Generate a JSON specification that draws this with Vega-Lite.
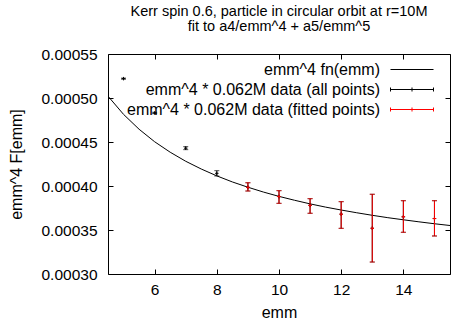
{
  "$schema": "https://vega.github.io/schema/vega-lite/v6.json",
  "width": 342,
  "height": 220,
  "autosize": {"type": "none"},
  "padding": {"left": 108, "top": 54, "right": 1, "bottom": 47},
  "title": {
    "text": ["Kerr spin 0.6, particle in circular orbit at r=10M", "fit to a4/emm^4 + a5/emm^5"],
    "fontSize": 14.5, "fontWeight": "normal", "font": "Liberation Sans", "lineHeight": 15,
    "offset": 13, "anchor": "middle", "color": "black"
  },
  "config": {
    "view": {"stroke": "black", "strokeWidth": 1},
    "font": "Liberation Sans",
    "axis": {
      "domain": false, "grid": false, "tickColor": "black", "tickSize": -5, "tickWidth": 1,
      "labelColor": "black", "labelFontSize": 15.5, "labelFont": "Liberation Sans",
      "titleColor": "black", "titleFontSize": 16, "titleFontWeight": "normal", "titleFont": "Liberation Sans"
    }
  },
  "datasets": {
    "curve": [
      {"emm": 4.5, "val": 0.0005021, "series": "emm^4 fn(emm)"},
      {"emm": 5.0, "val": 0.0004814, "series": "emm^4 fn(emm)"},
      {"emm": 5.5, "val": 0.0004645, "series": "emm^4 fn(emm)"},
      {"emm": 6.0, "val": 0.0004503, "series": "emm^4 fn(emm)"},
      {"emm": 6.5, "val": 0.0004384, "series": "emm^4 fn(emm)"},
      {"emm": 7.0, "val": 0.0004281, "series": "emm^4 fn(emm)"},
      {"emm": 7.5, "val": 0.0004193, "series": "emm^4 fn(emm)"},
      {"emm": 8.0, "val": 0.0004115, "series": "emm^4 fn(emm)"},
      {"emm": 8.5, "val": 0.0004046, "series": "emm^4 fn(emm)"},
      {"emm": 9.0, "val": 0.0003986, "series": "emm^4 fn(emm)"},
      {"emm": 9.5, "val": 0.0003931, "series": "emm^4 fn(emm)"},
      {"emm": 10.0, "val": 0.0003882, "series": "emm^4 fn(emm)"},
      {"emm": 10.5, "val": 0.0003838, "series": "emm^4 fn(emm)"},
      {"emm": 11.0, "val": 0.0003797, "series": "emm^4 fn(emm)"},
      {"emm": 11.5, "val": 0.0003760, "series": "emm^4 fn(emm)"},
      {"emm": 12.0, "val": 0.0003727, "series": "emm^4 fn(emm)"},
      {"emm": 12.5, "val": 0.0003696, "series": "emm^4 fn(emm)"},
      {"emm": 13.0, "val": 0.0003667, "series": "emm^4 fn(emm)"},
      {"emm": 13.5, "val": 0.0003640, "series": "emm^4 fn(emm)"},
      {"emm": 14.0, "val": 0.0003616, "series": "emm^4 fn(emm)"},
      {"emm": 14.5, "val": 0.0003593, "series": "emm^4 fn(emm)"},
      {"emm": 15.0, "val": 0.0003571, "series": "emm^4 fn(emm)"},
      {"emm": 15.5, "val": 0.0003551, "series": "emm^4 fn(emm)"}
    ],
    "pts": [
      {"emm": 5, "val": 0.000522, "lo": 0.0005214, "hi": 0.0005226, "series": "emm^4 * 0.062M data (all points)"},
      {"emm": 6, "val": 0.000483, "lo": 0.0004822, "hi": 0.0004838, "series": "emm^4 * 0.062M data (all points)"},
      {"emm": 7, "val": 0.000443, "lo": 0.0004413, "hi": 0.0004447, "series": "emm^4 * 0.062M data (all points)"},
      {"emm": 8, "val": 0.0004144, "lo": 0.0004114, "hi": 0.0004174, "series": "emm^4 * 0.062M data (all points)"},
      {"emm": 9, "val": 0.0003985, "lo": 0.0003943, "hi": 0.0004037, "series": "emm^4 * 0.062M data (all points)"},
      {"emm": 10, "val": 0.000388, "lo": 0.0003803, "hi": 0.0003947, "series": "emm^4 * 0.062M data (all points)"},
      {"emm": 11, "val": 0.000378, "lo": 0.000369, "hi": 0.0003856, "series": "emm^4 * 0.062M data (all points)"},
      {"emm": 12, "val": 0.000368, "lo": 0.0003519, "hi": 0.0003822, "series": "emm^4 * 0.062M data (all points)"},
      {"emm": 13, "val": 0.000352, "lo": 0.0003136, "hi": 0.0003906, "series": "emm^4 * 0.062M data (all points)"},
      {"emm": 14, "val": 0.000365, "lo": 0.0003474, "hi": 0.0003833, "series": "emm^4 * 0.062M data (all points)"},
      {"emm": 15, "val": 0.000363, "lo": 0.0003432, "hi": 0.0003833, "series": "emm^4 * 0.062M data (all points)"},
      {"emm": 9, "val": 0.0003985, "lo": 0.0003943, "hi": 0.0004037, "series": "emm^4 * 0.062M data (fitted points)"},
      {"emm": 10, "val": 0.000388, "lo": 0.0003803, "hi": 0.0003947, "series": "emm^4 * 0.062M data (fitted points)"},
      {"emm": 11, "val": 0.000378, "lo": 0.000369, "hi": 0.0003856, "series": "emm^4 * 0.062M data (fitted points)"},
      {"emm": 12, "val": 0.000368, "lo": 0.0003519, "hi": 0.0003822, "series": "emm^4 * 0.062M data (fitted points)"},
      {"emm": 13, "val": 0.000352, "lo": 0.0003136, "hi": 0.0003906, "series": "emm^4 * 0.062M data (fitted points)"},
      {"emm": 14, "val": 0.000365, "lo": 0.0003474, "hi": 0.0003833, "series": "emm^4 * 0.062M data (fitted points)"},
      {"emm": 15, "val": 0.000363, "lo": 0.0003432, "hi": 0.0003833, "series": "emm^4 * 0.062M data (fitted points)"}
    ]
  },
  "layer": [
    {
      "data": {"name": "curve"},
      "mark": {"type": "line", "strokeWidth": 1, "clip": true},
      "encoding": {
        "x": {"field": "emm", "type": "quantitative", "scale": {"domain": [4.5, 15.5], "nice": false, "zero": false},
              "axis": {"orient": "bottom", "values": [6, 8, 10, 12, 14], "title": "emm", "labelPadding": 13, "titlePadding": 7}},
        "y": {"field": "val", "type": "quantitative", "scale": {"domain": [0.0003, 0.00055], "nice": false, "zero": false},
              "axis": {"orient": "left", "values": [0.0003, 0.00035, 0.0004, 0.00045, 0.0005, 0.00055], "format": ".5f", "title": "emm^4 F[emm]", "labelPadding": 16, "titlePadding": 16}},
        "color": {"field": "series", "type": "nominal",
          "scale": {"domain": ["emm^4 fn(emm)", "emm^4 * 0.062M data (all points)", "emm^4 * 0.062M data (fitted points)"], "range": ["black", "black", "#ff0000"]},
          "legend": {"title": null, "orient": "none", "legendX": 293.5, "legendY": 5, "padding": 0,
            "symbolType": "M-2.15,0H2.15", "symbolSize": 400, "symbolStrokeWidth": 1, "labelAlign": "right", "labelOffset": -42.5,
            "rowPadding": 1, "labelFontSize": 16, "labelFont": "Liberation Sans", "labelColor": "black", "labelLimit": 400,
            "encoding": {"symbols": {
              "shape": {"value": {"expr": "datum.index === 0 ? 'M-2.15,0H2.15' : 'M-2.15,0H2.15M-2.15,-0.2V0.2M2.15,-0.2V0.2M0,-0.2V0.2'"}},
              "stroke": {"value": {"expr": "datum.index === 2 ? '#ff0000' : 'black'"}},
              "fill": {"value": "transparent"},
              "strokeWidth": {"value": 1},
              "opacity": {"value": 1}
            }}}}
      }
    },
    {
      "data": {"name": "pts"},
      "mark": {"type": "rule", "strokeWidth": 1},
      "encoding": {
        "x": {"field": "emm", "type": "quantitative", "axis": {"orient": "top", "values": [6, 8, 10, 12, 14], "labels": false, "title": null}},
        "y": {"field": "lo", "type": "quantitative", "axis": {"orient": "right", "values": [0.0003, 0.00035, 0.0004, 0.00045, 0.0005, 0.00055], "labels": false, "title": null}},
        "y2": {"field": "hi"},
        "color": {"field": "series", "type": "nominal", "legend": null}
      }
    },
    {
      "data": {"name": "pts"},
      "mark": {"type": "tick", "orient": "horizontal", "size": 5, "thickness": 1},
      "encoding": {
        "x": {"field": "emm", "type": "quantitative", "axis": null},
        "y": {"field": "lo", "type": "quantitative", "axis": null},
        "color": {"field": "series", "type": "nominal", "legend": null}
      }
    },
    {
      "data": {"name": "pts"},
      "mark": {"type": "tick", "orient": "horizontal", "size": 5, "thickness": 1},
      "encoding": {
        "x": {"field": "emm", "type": "quantitative", "axis": null},
        "y": {"field": "hi", "type": "quantitative", "axis": null},
        "color": {"field": "series", "type": "nominal", "legend": null}
      }
    },
    {
      "data": {"name": "pts"},
      "mark": {"type": "point", "shape": "M-1,0H1M0,-1V1", "size": 12, "filled": false, "strokeWidth": 1, "opacity": 1},
      "encoding": {
        "x": {"field": "emm", "type": "quantitative", "axis": null},
        "y": {"field": "val", "type": "quantitative", "axis": null},
        "color": {"field": "series", "type": "nominal", "legend": null}
      }
    }
  ]
}
